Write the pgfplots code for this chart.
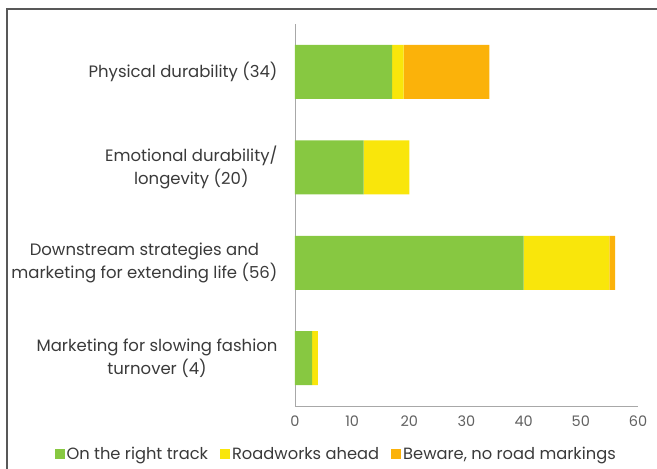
\documentclass[border=0pt]{standalone}
\usepackage{pgfplots}
\pgfplotsset{compat=1.18}
\usepackage{fontspec}
\setmainfont{Poppins}
\definecolor{cgreen}{HTML}{87C841}
\definecolor{cyellow}{HTML}{F9E60B}
\definecolor{corange}{HTML}{FBB20A}
\definecolor{ctext}{HTML}{3A3A3A}
\definecolor{caxis}{HTML}{A8A8A8}
\begin{document}
\begin{tikzpicture}[x=1pt,y=1pt]
\useasboundingbox (0,0) rectangle (657,469);
\draw[line width=1.8pt,color=ctext!85] (7,0) -- (7,460) -- (657,460);
\begin{axis}[
  at={(295pt,63pt)}, anchor=south west,
  scale only axis, width=343pt, height=382pt,
  xbar stacked, bar width=54pt,
  xmin=0, xmax=60, ymin=-0.5, ymax=3.5,
  xtick={0,10,...,60},
  ytick={0,1,2,3},
  yticklabels={{Marketing for slowing fashion\\turnover (4)},{Downstream strategies and\\marketing for extending life (56)},{Emotional durability/\\longevity (20)},{Physical durability (34)}},
  axis x line=bottom, axis y line=left,
  axis line style={caxis, line width=0.9pt, -},
  major tick length=0pt,
  tick style={draw=none},
  /pgf/number format/assume math mode=true,
  xticklabel style={font=\fontsize{14.5}{16}\selectfont, text=ctext!80, yshift=-6pt},
  yticklabel style={font=\fontsize{16.5}{23}\selectfont, text=ctext, align=center, xshift=-14pt},
  legend style={at={(0.12,-0.125)}, anchor=center, draw=none, fill=none,
    legend columns=-1, font=\fontsize{16.3}{18}\selectfont, text=ctext,
    /tikz/every even column/.append style={column sep=10pt}},
  legend image code/.code={\fill[#1] (0pt,-5pt) rectangle (10pt,5pt);},
  legend cell align=left,
]
\addplot[fill=cgreen, draw=none] coordinates {(3,0) (40,1) (12,2) (17,3)};
\addplot[fill=cyellow, draw=none] coordinates {(1,0) (15,1) (8,2) (2,3)};
\addplot[fill=corange, draw=none] coordinates {(0,0) (1,1) (0,2) (15,3)};
\legend{On the right track, Roadworks ahead, {Beware, no road markings}}
\end{axis}
\end{tikzpicture}
\end{document}
